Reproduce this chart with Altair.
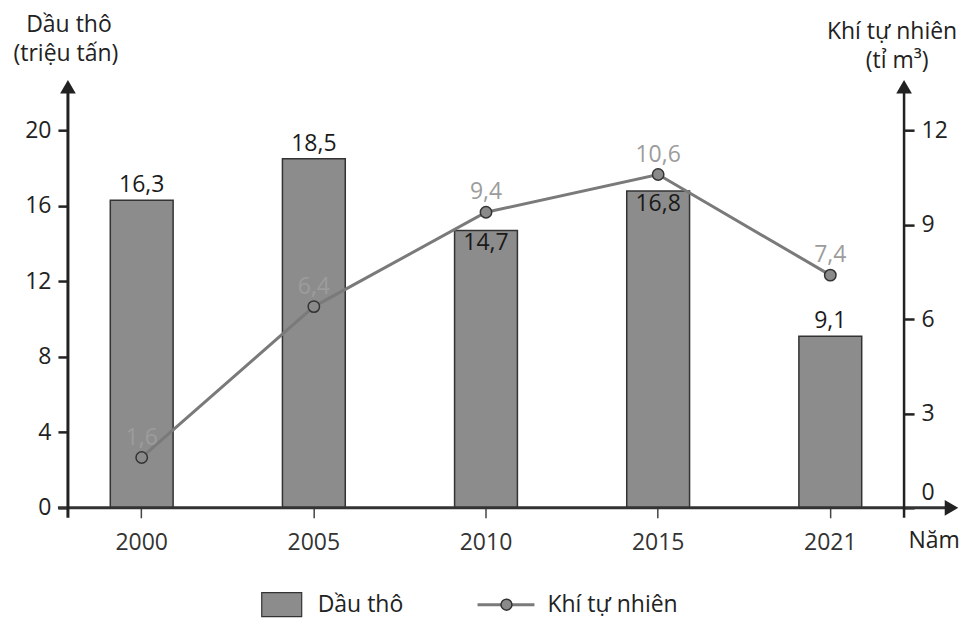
import altair as alt
import pandas as pd

years = ["2000", "2005", "2010", "2015", "2021"]
oil = [16.3, 18.5, 14.7, 16.8, 9.1]
gas = [1.6, 6.4, 9.4, 10.6, 7.4]
oil_labels = ["16,3", "18,5", "14,7", "16,8", "9,1"]
gas_labels = ["1,6", "6,4", "9,4", "10,6", "7,4"]
oil_inside = ["2010", "2015"]

left_ticks = [0, 4, 8, 12, 16, 20]
right_ticks = [0, 3, 6, 9, 12]

df = pd.DataFrame({"year": years, "oil": oil, "gas": gas,
                   "oil_label": oil_labels, "gas_label": gas_labels})

FONT = "Open Sans"
FS = 23
W, H = 837, 423

xenc = alt.X("year:N", sort=years,
             scale=alt.Scale(paddingInner=0.635, paddingOuter=0.246),
             axis=alt.Axis(title=None, domain=False, labelAngle=0,
                           tickColor="#444", tickWidth=1.5, tickSize=10,
                           labelFontSize=FS, labelPadding=14, labelColor="#333",
                           labelFont=FONT))

yl = alt.Y("oil:Q", scale=alt.Scale(domain=[0, 22.4], nice=False),
           axis=alt.Axis(values=left_ticks, title=None, grid=False, domain=False,
                         tickColor="#222", tickWidth=2.5, tickSize=10,
                         labelFontSize=FS, labelPadding=7, labelColor="#222",
                         labelFont=FONT, orient="left"))
yr = alt.Y("gas:Q", scale=alt.Scale(domain=[0, 13.44], nice=False),
           axis=alt.Axis(values=right_ticks, title=None, grid=False, domain=False,
                         tickColor="#222", tickWidth=2.5, tickSize=10,
                         labelFontSize=FS, labelPadding=7, labelColor="#222",
                         labelFont=FONT, orient="right",
                         labelOffset={"condition": {"test": "datum.value == 0", "value": -15},
                                      "value": 0}))

base = alt.Chart(df)

bars = base.mark_bar(fill="#8c8c8c", stroke="#333", strokeWidth=1.5).encode(x=xenc, y=yl)
oil_out = base.transform_filter(
    ~alt.FieldOneOfPredicate(field="year", oneOf=oil_inside)
).mark_text(font=FONT, fontSize=FS, color="#1a1a1a", baseline="bottom", dy=-3).encode(
    x=xenc, y=yl, text="oil_label:N")
oil_in = base.transform_filter(
    alt.FieldOneOfPredicate(field="year", oneOf=oil_inside)
).mark_text(font=FONT, fontSize=FS, color="#1a1a1a", baseline="top", dy=2).encode(
    x=xenc, y=yl, text="oil_label:N")
left = alt.layer(bars, oil_out, oil_in)

line = base.mark_line(color="#7a7a7a", strokeWidth=3).encode(x=xenc, y=yr)
pts = base.mark_point(filled=True, fill="#8a8a8a", stroke="#333", strokeWidth=1.5,
                      size=130, opacity=1, shape="circle").encode(x=xenc, y=yr)
gas_txt = base.mark_text(font=FONT, fontSize=FS, color="#9c9c9c", baseline="bottom",
                         dy=-8).encode(x=xenc, y=yr, text="gas_label:N")
right = alt.layer(line, pts, gas_txt)

one = pd.DataFrame({"k": [0]})
deco = alt.Chart(one)

# axis lines with arrows
xline = deco.mark_rule(color="#333", strokeWidth=3).encode(
    x=alt.value(-10), x2=alt.value(882), y=alt.value(H))
lline = deco.mark_rule(color="#222", strokeWidth=3).encode(
    x=alt.value(0), y=alt.value(4), y2=alt.value(H + 10))
rline = deco.mark_rule(color="#222", strokeWidth=2.5).encode(
    x=alt.value(W), y=alt.value(4), y2=alt.value(H + 10))
arrow_x = deco.mark_point(shape="triangle-right", filled=True, fill="#222", stroke="#222",
                          size=150, opacity=1).encode(x=alt.value(884), y=alt.value(H))
arrow_l = deco.mark_point(shape="triangle-up", filled=True, fill="#222", stroke="#222",
                          size=150, opacity=1).encode(x=alt.value(0), y=alt.value(2))
arrow_r = deco.mark_point(shape="triangle-up", filled=True, fill="#222", stroke="#222",
                          size=150, opacity=1).encode(x=alt.value(W), y=alt.value(2))

def label(txt, x, y, align="center", color="#222", size=FS):
    return deco.mark_text(text=txt, font=FONT, fontSize=size, color=color,
                          align=align, baseline="middle").encode(
        x=alt.value(x), y=alt.value(y))

titles = [
    label("Dầu thô", 1, -60),
    label("(triệu tấn)", -2, -31),
    label("Khí tự nhiên", 825, -53),
    label("(tỉ m³)", 830, -24),
    label("Năm", 867, 456),
    label("Dầu thô", 250, 520, align="left"),
    label("Khí tự nhiên", 480, 520, align="left"),
]

leg_rect = deco.mark_rect(fill="#8c8c8c", stroke="#333", strokeWidth=1.2).encode(
    x=alt.value(194), x2=alt.value(234), y=alt.value(508), y2=alt.value(532))
leg_line = deco.mark_rule(color="#7a7a7a", strokeWidth=3).encode(
    x=alt.value(410), x2=alt.value(467), y=alt.value(520))
leg_pt = deco.mark_point(filled=True, fill="#8a8a8a", stroke="#333", strokeWidth=1.5,
                         size=120, opacity=1, shape="circle").encode(
    x=alt.value(439), y=alt.value(520))

chart = alt.layer(
    left, right,
    xline, lline, rline, arrow_x, arrow_l, arrow_r,
    leg_rect, leg_line, leg_pt, *titles
).resolve_scale(y="independent").properties(
    width=W, height=H,
    autosize=alt.AutoSizeParams(type="none"),
    padding={"left": 60, "top": 77, "right": 60, "bottom": 110},
    background="white"
).configure_view(stroke=None)

chart.save("out.html", embed_options={"renderer": "svg", "actions": False})
